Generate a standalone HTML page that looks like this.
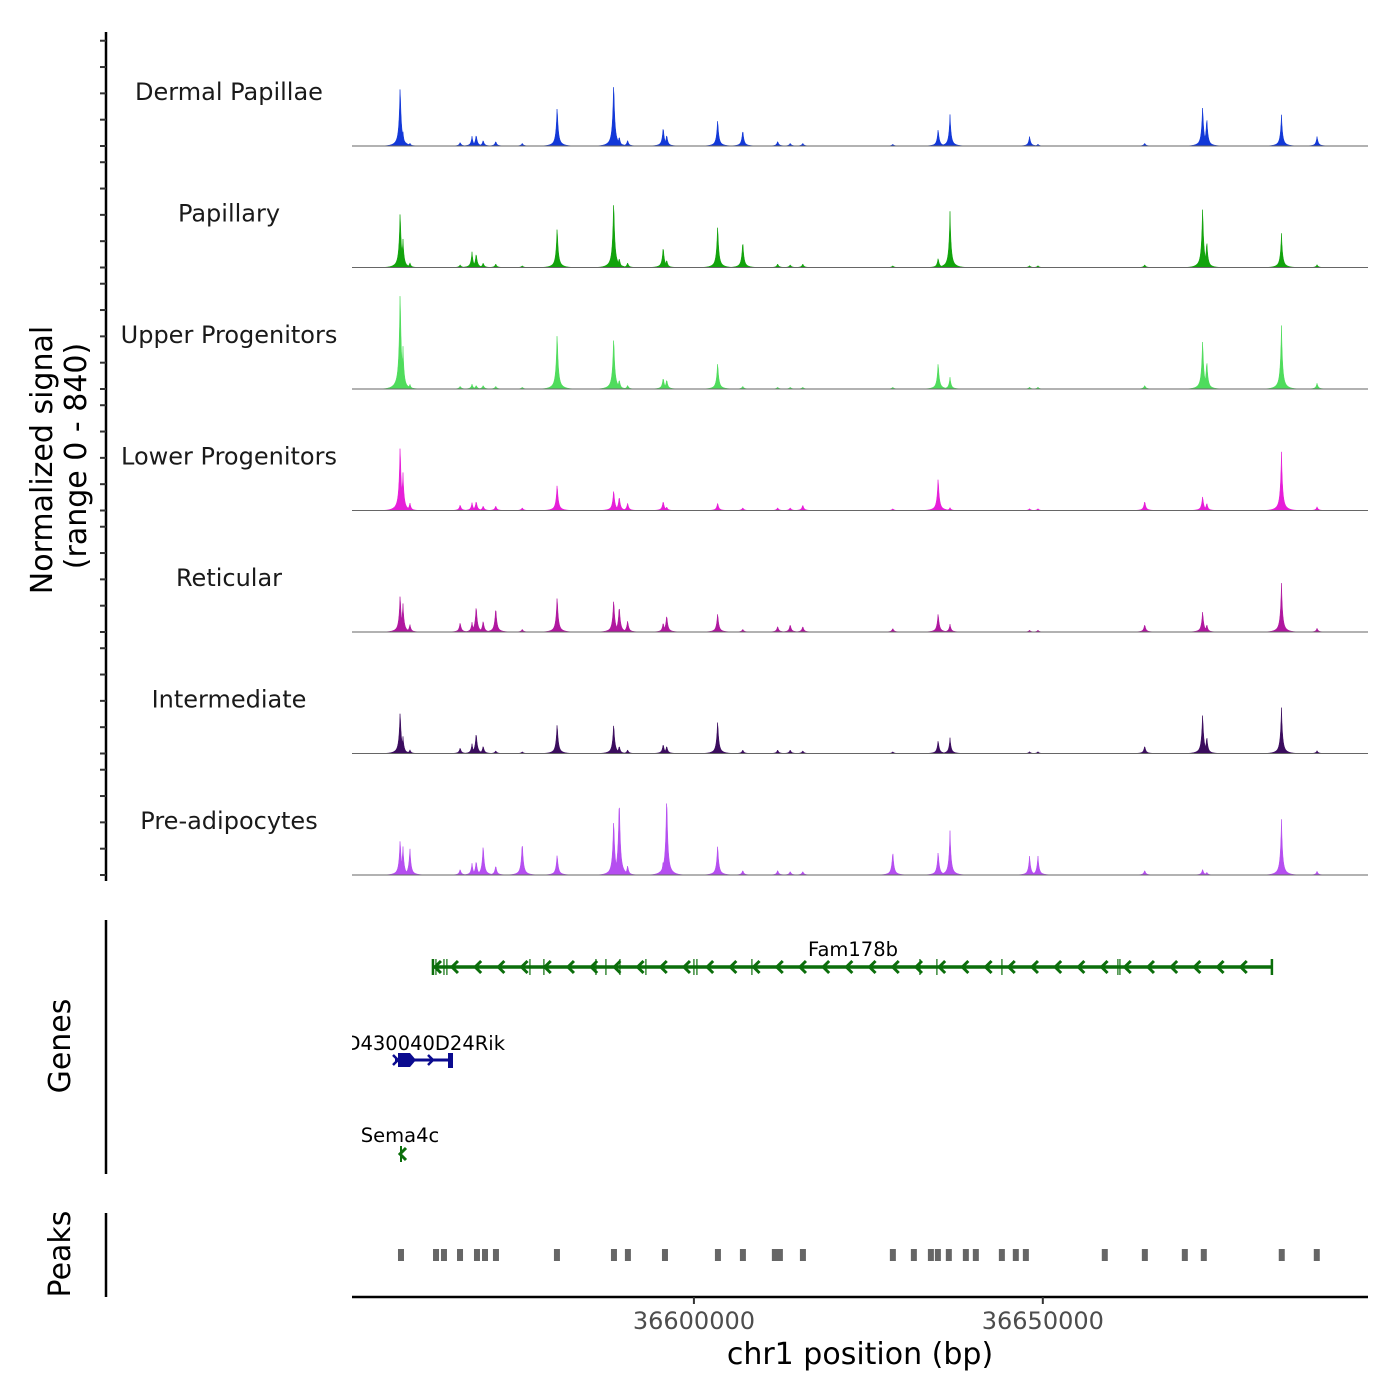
<!DOCTYPE html>
<html><head><meta charset="utf-8">
<style>
html,body{margin:0;padding:0;background:#fff;}
svg{display:block;font-family:"DejaVu Sans","Liberation Sans",sans-serif;}
</style></head>
<body>
<svg id="chart" width="1400" height="1400" viewBox="0 0 1400 1400">
<defs><clipPath id="plotclip"><rect x="352" y="0" width="1020" height="1400"/></clipPath></defs>
<g id="tracks"></g>
<g id="leftaxis"></g>
<text x="52" y="460" transform="rotate(-90 52 460)" text-anchor="middle" font-size="30" fill="#000">Normalized signal</text>
<text x="86" y="456" transform="rotate(-90 86 456)" text-anchor="middle" font-size="30" fill="#000">(range 0 - 840)</text>
<line x1="106" y1="920" x2="106" y2="1174" stroke="#000" stroke-width="2.5"/>
<text x="70" y="1046" transform="rotate(-90 70 1046)" text-anchor="middle" font-size="30" fill="#000">Genes</text>
<g id="genes" clip-path="url(#plotclip)"></g>
<line x1="106" y1="1213" x2="106" y2="1297" stroke="#000" stroke-width="2.5"/>
<text x="70" y="1254" transform="rotate(-90 70 1254)" text-anchor="middle" font-size="30" fill="#000">Peaks</text>
<g id="peaks"></g>
<line x1="352" y1="1297" x2="1368" y2="1297" stroke="#000" stroke-width="2.5"/>
<g id="xaxis"></g>
<text x="860" y="1364" text-anchor="middle" font-size="30" fill="#000">chr1 position (bp)</text>
</svg>
<script>
const trackNames = ["Dermal Papillae","Papillary","Upper Progenitors","Lower Progenitors","Reticular","Intermediate","Pre-adipocytes"];
const trackColors = ["#1238d8","#12a30c","#4fdc5c","#e61ed8","#b0179f","#3b0c5e","#b54ef0"];
const peakPositions = [36557900,36558300,36559300,36566500,36568200,36568800,36569800,36571600,36575400,36580400,36588500,36589300,36590500,36595600,36596100,36603400,36607000,36612000,36613800,36615600,36628500,36635000,36636700,36648100,36649300,36664600,36672900,36673500,36684200,36689300];
const sigDermal = [486,114,23,30,76,91,46,38,23,319,517,76,46,152,91,213,129,38,23,23,15,137,243,76,15,23,319,228,243,76];
const sigPapillary = [456,228,38,23,122,114,38,30,15,327,547,76,38,167,61,342,213,30,23,30,15,76,433,15,15,23,486,213,266,23];
const sigUpper = [798,342,38,23,38,30,30,23,15,456,426,76,30,91,76,213,23,15,15,15,15,213,91,15,15,30,395,228,494,46];
const sigLower = [532,304,61,46,61,76,38,38,23,213,167,114,61,76,30,61,23,23,23,46,15,266,23,15,15,76,114,61,456,30];
const sigReticular = [304,228,61,76,76,213,91,198,23,289,266,213,91,76,137,152,23,46,61,46,30,152,61,15,15,61,167,61,380,30];
const sigIntermediate = [342,137,30,46,76,167,61,23,15,243,243,61,30,76,61,266,30,30,30,23,15,106,122,15,15,61,319,137,357,23];
const sigPreadipo = [289,228,213,46,91,114,243,76,266,167,456,623,76,114,646,243,38,38,30,30,190,190,342,152,152,38,46,23,433,30];
const signals = [sigDermal,sigPapillary,sigUpper,sigLower,sigReticular,sigIntermediate,sigPreadipo];
const yTicks = [0,200,400,600,800];
const xTickValues = [36600000,36650000];
const xTickLabels = ["36600000","36650000"];
const peakRegionStarts = [36558020,36563040,36564180,36566480,36568910,36570060,36571630,36580370,36588540,36590540,36595850,36603440,36607020,36611600,36612320,36615620,36628510,36631520,36633960,36634960,36636530,36638970,36640400,36644130,36646130,36647570,36658880,36664620,36670350,36673070,36684240,36689260];
const famExons = [36562600,36563030,36564180,36564600,36576500,36578500,36585960,36587390,36589400,36593120,36600000,36600430,36608310,36632390,36634820,36644140,36660760,36661050,36682830];

const NS="http://www.w3.org/2000/svg";
function mk(tag,attrs,parent){const e=document.createElementNS(NS,tag);for(const k in attrs)e.setAttribute(k,attrs[k]);parent.appendChild(e);return e;}
const X0=36551000,X1=36696600,PX0=352,PX1=1368;
function xScale(bp){return PX0+(bp-X0)/(X1-X0)*(PX1-PX0);}
const baselines=[146,267.5,389,510.5,632,753.5,875];
const pxPerUnit=0.1316;
function yScale(v,i){return baselines[i]-v*pxPerUnit;}

const tracks=document.getElementById('tracks');
const leftaxis=document.getElementById('leftaxis');
const axl=mk('line',{x1:106,y1:32,x2:106,y2:881,stroke:'#000','stroke-width':2.5},leftaxis);


signals.forEach((sig,i)=>{
  const g=mk('g',{},tracks);
  
  
  const lbl=mk('text',{x:229,y:baselines[i]-46,'text-anchor':'middle','font-size':24,fill:'#1a1a1a'},g);
  lbl.textContent=trackNames[i];
  
  
  const px=peakPositions.map(xScale);
  let d='M'+PX0+','+baselines[i];
  for(let x=PX0;x<=PX1;x+=0.5){
    let v=0;
    for(let k=0;k<px.length;k++){const dx=Math.abs(x-px[k]);if(dx>30)continue;
      const h=sig[k]*(0.78*Math.exp(-dx/1.0)+0.22*Math.exp(-dx/3.8));if(h>v)v=h;}
    d+=' L'+x+','+yScale(v,i).toFixed(2);
  }
  d+=' L'+PX1+','+baselines[i]+' Z';
  const p=mk('path',{d:d,fill:trackColors[i],stroke:trackColors[i],'stroke-width':0.5},g);
  
  
  const bl=mk('line',{x1:PX0,y1:baselines[i],x2:PX1,y2:baselines[i],stroke:'#666','stroke-width':1},g);
  
  
  yTicks.forEach(t=>{
    const tk=mk('line',{x1:100,x2:106,y1:yScale(t,i),y2:yScale(t,i),stroke:'#333','stroke-width':2},leftaxis);
    
    
  });
});

// genes
const genes=document.getElementById('genes');
const green='#0b6e0b',blue='#0b0b8f';
const fg=mk('g',{},genes);


const fs=xScale(famExons[0]),fe=xScale(famExons[famExons.length-1]);
mk('line',{x1:fs,y1:967,x2:fe,y2:967,stroke:green,'stroke-width':3.5},fg);
for(let x=fs+20;x<fe-8;x+=23.2){mk('path',{d:`M${x+5},961 L${x-1},967 L${x+5},973`,fill:'none',stroke:green,'stroke-width':3},fg);}
famExons.forEach((b,k)=>{const x=xScale(b);const w=(k==0||k==famExons.length-1)?2.5:1.2;mk('line',{x1:x,y1:959,x2:x,y2:975,stroke:green,'stroke-width':w},fg);});
mk('path',{d:`M${fs+8},961 L${fs+2},967 L${fs+8},973`,fill:'none',stroke:green,'stroke-width':3},fg);
const ft=mk('text',{x:853,y:956,'text-anchor':'middle','font-size':19.5,fill:'#000'},fg);ft.textContent='Fam178b';


const dg=mk('g',{},genes);


mk('line',{x1:395,y1:1060,x2:453,y2:1060,stroke:blue,'stroke-width':3},dg);
mk('rect',{x:398,y:1053,width:12,height:14,fill:blue},dg);
mk('path',{d:'M410,1053 L416,1060 L410,1067 Z',fill:blue},dg);
mk('path',{d:'M393,1055 L398,1060 L393,1065',fill:'none',stroke:blue,'stroke-width':2.5},dg);
mk('path',{d:'M428,1055 L433,1060 L428,1065',fill:'none',stroke:blue,'stroke-width':2.5},dg);
mk('rect',{x:448,y:1053,width:5,height:15,fill:blue},dg);
const dt=mk('text',{x:505,y:1050,'text-anchor':'end','font-size':19.5,fill:'#000'},dg);dt.textContent='D430040D24Rik';


const sg=mk('g',{},genes);


mk('path',{d:'M406,1148 L400,1154 L406,1160',fill:'none',stroke:green,'stroke-width':3},sg);
mk('line',{x1:401,y1:1146,x2:401,y2:1162,stroke:green,'stroke-width':2},sg);
const st=mk('text',{x:400,y:1142,'text-anchor':'middle','font-size':19.5,fill:'#000'},sg);st.textContent='Sema4c';


// peaks
const peaks=document.getElementById('peaks');
peakRegionStarts.forEach(b=>{
  const r=mk('rect',{x:xScale(b)-3,y:1249,width:6,height:12,fill:'#666'},peaks);
  
  
});

// x axis
const xaxis=document.getElementById('xaxis');
xTickValues.forEach((v,k)=>{
  const x=xScale(v);
  const t=mk('line',{x1:x,x2:x,y1:1297,y2:1304,stroke:'#333','stroke-width':2},xaxis);
  
  
  const l=mk('text',{x:x,y:1329,'text-anchor':'middle','font-size':24,fill:'#4d4d4d'},xaxis);
  l.textContent=xTickLabels[k];
  
  
});
</script>
</body></html>
